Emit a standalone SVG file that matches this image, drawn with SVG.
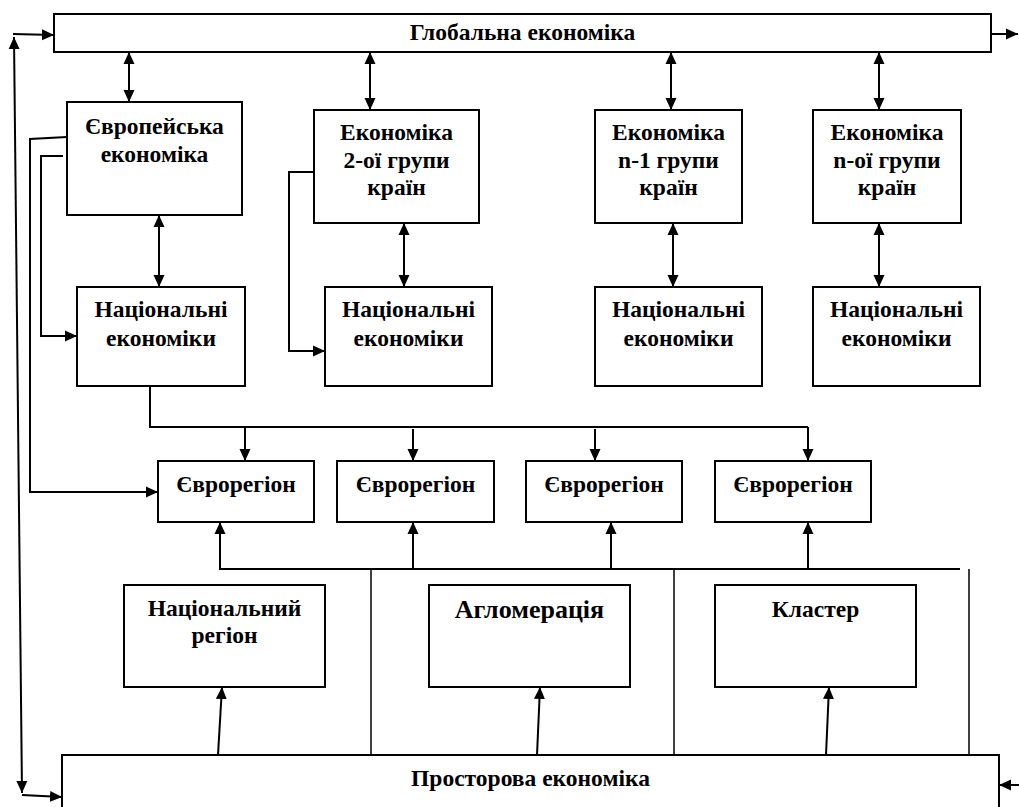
<svg xmlns="http://www.w3.org/2000/svg" width="1019" height="807" viewBox="0 0 1019 807">
<style>
.box{fill:#fff;stroke:#000;stroke-width:2}
.t{font-weight:bold;font-size:23.5px;text-anchor:middle;fill:#000}
.big{font-size:26px}
.c{fill:none;stroke:#000;stroke-width:2}
.a{marker-end:url(#ah)}
.d{marker-start:url(#ah);marker-end:url(#ah)}
.thin{fill:none;stroke:#000;stroke-width:1.5}
</style>
<defs>
<marker id="ah" markerUnits="userSpaceOnUse" viewBox="0 0 12 12" refX="12" refY="6" markerWidth="12" markerHeight="12" orient="auto-start-reverse">
<path d="M0,0.5 L12,6 L0,11.5 z" fill="#000"/>
</marker>
</defs>
<rect x="0" y="0" width="1019" height="807" fill="#fff"/>
<g font-family="'Liberation Serif', 'DejaVu Serif', serif">
<g id="global"><rect class="box" x="54" y="14" width="937" height="38"/><text class="t" x="522.5" y="40">Глобальна економіка</text></g>
<g id="europe"><rect class="box" x="67" y="102" width="175" height="113"/><text class="t"><tspan x="154.5" y="134">Європейська</tspan><tspan x="154.5" y="162">економіка</tspan></text></g>
<g id="econ2"><rect class="box" x="314" y="110" width="165" height="113"/><text class="t"><tspan x="396.5" y="140">Економіка</tspan><tspan x="396.5" y="168">2-ої групи</tspan><tspan x="396.5" y="195">країн</tspan></text></g>
<g id="econn1"><rect class="box" x="595" y="110" width="147" height="113"/><text class="t"><tspan x="668.5" y="140">Економіка</tspan><tspan x="668.5" y="168">n-1 групи</tspan><tspan x="668.5" y="195">країн</tspan></text></g>
<g id="econn"><rect class="box" x="813" y="110" width="148" height="113"/><text class="t"><tspan x="887" y="140">Економіка</tspan><tspan x="887" y="168">n-ої групи</tspan><tspan x="887" y="195">країн</tspan></text></g>
<g id="nat1"><rect class="box" x="77" y="287" width="168" height="99"/><text class="t"><tspan x="161" y="317">Національні</tspan><tspan x="161" y="346">економіки</tspan></text></g>
<g id="nat2"><rect class="box" x="325" y="287" width="167" height="99"/><text class="t"><tspan x="408.5" y="317">Національні</tspan><tspan x="408.5" y="346">економіки</tspan></text></g>
<g id="nat3"><rect class="box" x="595" y="287" width="167" height="99"/><text class="t"><tspan x="678.5" y="317">Національні</tspan><tspan x="678.5" y="346">економіки</tspan></text></g>
<g id="nat4"><rect class="box" x="813" y="287" width="167" height="99"/><text class="t"><tspan x="896.5" y="317">Національні</tspan><tspan x="896.5" y="346">економіки</tspan></text></g>
<g id="evro1"><rect class="box" x="158" y="461" width="156" height="61"/><text class="t" x="236" y="492">Єврорегіон</text></g>
<g id="evro2"><rect class="box" x="337" y="461" width="157" height="61"/><text class="t" x="415.5" y="492">Єврорегіон</text></g>
<g id="evro3"><rect class="box" x="526" y="461" width="156" height="61"/><text class="t" x="604" y="492">Єврорегіон</text></g>
<g id="evro4"><rect class="box" x="715" y="461" width="156" height="61"/><text class="t" x="793" y="492">Єврорегіон</text></g>
<g id="natreg"><rect class="box" x="124" y="585" width="201" height="102"/><text class="t"><tspan x="224.5" y="616">Національний</tspan><tspan x="224.5" y="643">регіон</tspan></text></g>
<g id="aglo"><rect class="box" x="429" y="585" width="201" height="102"/><text class="t big" x="529.5" y="618">Агломерація</text></g>
<g id="klaster"><rect class="box" x="715" y="585" width="201" height="102"/><text class="t" x="815.5" y="617">Кластер</text></g>
<g id="prostor"><rect class="box" x="62" y="755" width="937" height="70"/><text class="t" x="530.5" y="786">Просторова економіка</text></g>
</g>
<g id="connectors">
<line class="c a" x1="13" y1="34" x2="54" y2="35"/>
<line class="c d" x1="14" y1="37" x2="22" y2="793"/>
<line class="c a" x1="22" y1="795" x2="62" y2="797"/>
<line class="c a" x1="991" y1="34" x2="1018" y2="34"/>
<line class="c a" x1="1019" y1="785" x2="999" y2="785"/>
<line class="c d" x1="129" y1="52" x2="129" y2="102"/>
<line class="c d" x1="370" y1="52" x2="370" y2="110"/>
<line class="c d" x1="671" y1="52" x2="671" y2="110"/>
<line class="c d" x1="879" y1="52" x2="879" y2="110"/>
<line class="c d" x1="159" y1="215" x2="159" y2="287"/>
<line class="c d" x1="404" y1="223" x2="404" y2="287"/>
<line class="c d" x1="673" y1="223" x2="673" y2="287"/>
<line class="c d" x1="879" y1="223" x2="879" y2="287"/>
<polyline class="c a" points="67,137 30,139 30,492 158,492"/>
<polyline class="c a" points="63,156 41,156 41,336 77,336"/>
<polyline class="c a" points="314,172 289,172 289,351 325,351"/>
<polyline class="c" points="150,386 150,427 808,427"/>
<line class="c a" x1="245" y1="427" x2="245" y2="461"/>
<line class="c a" x1="413" y1="429" x2="413" y2="461"/>
<line class="c a" x1="595" y1="429" x2="595" y2="461"/>
<line class="c a" x1="808" y1="427" x2="808" y2="461"/>
<line class="c" x1="219" y1="569" x2="960" y2="569"/>
<line class="c a" x1="220" y1="569" x2="220" y2="522"/>
<line class="c a" x1="413" y1="569" x2="413" y2="522"/>
<line class="c a" x1="611" y1="569" x2="611" y2="522"/>
<line class="c a" x1="808" y1="569" x2="808" y2="522"/>
<line class="thin" x1="371" y1="569" x2="371" y2="755"/>
<line class="thin" x1="674" y1="569" x2="674" y2="755"/>
<line class="thin" x1="969" y1="569" x2="969" y2="755"/>
<line class="c a" x1="218" y1="755" x2="222" y2="687"/>
<line class="c a" x1="537" y1="755" x2="540" y2="687"/>
<line class="c a" x1="826" y1="755" x2="829" y2="687"/>
</g>
</svg>
